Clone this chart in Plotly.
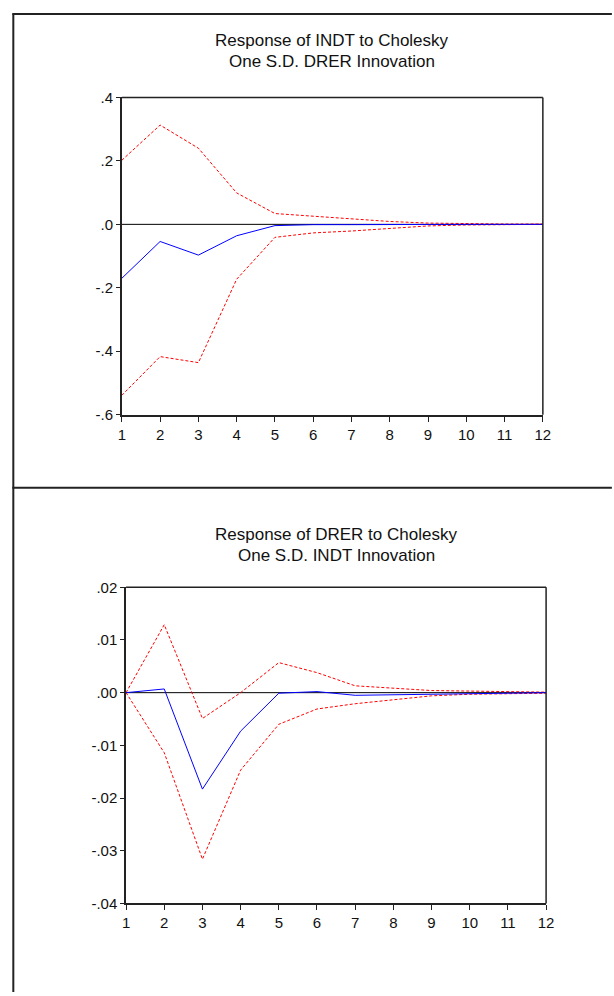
import plotly.graph_objects as go

W, H = 614, 996

periods = list(range(1, 13))

# Panel 1: Response of INDT to Cholesky One S.D. DRER Innovation
indt_resp = [-0.170, -0.054, -0.097, -0.036, -0.004, -0.001, -0.001, 0.000, 0.000, 0.000, 0.000, 0.000]
indt_upper = [0.202, 0.313, 0.240, 0.099, 0.034, 0.025, 0.016, 0.009, 0.004, 0.002, 0.001, 0.001]
indt_lower = [-0.539, -0.417, -0.436, -0.173, -0.041, -0.027, -0.021, -0.013, -0.005, -0.002, -0.001, 0.000]

# Panel 2: Response of DRER to Cholesky One S.D. INDT Innovation
drer_resp = [0.0, 0.0007, -0.0183, -0.0073, -0.0001, 0.0002, -0.0005, -0.0004, -0.0002, -0.0001, 0.0, 0.0]
drer_upper = [0.0, 0.0129, -0.0049, 0.0000, 0.0057, 0.0038, 0.0013, 0.0008, 0.0004, 0.0003, 0.0002, 0.0001]
drer_lower = [0.0, -0.0114, -0.0316, -0.0147, -0.0060, -0.0031, -0.0021, -0.0013, -0.0006, -0.0003, -0.0002, -0.0001]

y1_ticks = [0.4, 0.2, 0.0, -0.2, -0.4, -0.6]
y1_labels = [".4", ".2", ".0", "-.2", "-.4", "-.6"]
y2_ticks = [0.02, 0.01, 0.0, -0.01, -0.02, -0.03, -0.04]
y2_labels = [".02", ".01", ".00", "-.01", "-.02", "-.03", "-.04"]

titles = [("Response of INDT to Cholesky", "One S.D. DRER Innovation"),
          ("Response of DRER to Cholesky", "One S.D. INDT Innovation")]

FONT = "Liberation Sans, Arial, sans-serif"

def px_x(p):
    return p / W

def px_y(p):
    return 1 - p / H

# plot areas in pixels: (x0, x1, ytop, ybottom)
areas = [(120.2, 549.6, 90.0, 412.7), (124.5, 552.9, 588.3, 910.0)]

fig = go.Figure()

panels = [
    (indt_resp, indt_upper, indt_lower, [-0.6, 0.4], y1_ticks, y1_labels),
    (drer_resp, drer_upper, drer_lower, [-0.04, 0.02], y2_ticks, y2_labels),
]

shapes = []
annotations = []
for i, (resp, up, lo, yr, yt, yl) in enumerate(panels):
    xa = "x" if i == 0 else "x2"
    ya = "y" if i == 0 else "y2"
    for series, color, dash in [(up, "#ff0000", "3px,2px"), (lo, "#ff0000", "3px,2px"), (resp, "#0000ff", "solid")]:
        fig.add_trace(go.Scatter(x=periods, y=series, mode="lines",
                                 line=dict(color=color, width=1, dash=dash),
                                 xaxis=xa, yaxis=ya, showlegend=False, hoverinfo="skip"))
    x0, x1, yt_px, yb_px = areas[i]
    axkey = "xaxis" if i == 0 else "xaxis2"
    aykey = "yaxis" if i == 0 else "yaxis2"
    fig.layout[axkey] = dict(
        domain=[px_x(x0), px_x(x1)], range=[1, 12], anchor=ya,
        tickmode="array", tickvals=periods, ticktext=[str(p) for p in periods],
        ticks="outside", ticklen=5, tickwidth=1, tickcolor="#222",
        showline=True, linecolor="#222", linewidth=2, mirror=False,
        showgrid=False, zeroline=False,
        tickfont=dict(family=FONT, size=15, color="#111"),
    )
    fig.layout[aykey] = dict(
        domain=[px_y(yb_px), px_y(yt_px)], range=yr, anchor=xa,
        tickmode="array", tickvals=yt, ticktext=yl,
        ticks="outside", ticklen=4, tickwidth=1, tickcolor="#222",
        showline=True, linecolor="#222", linewidth=1.5, mirror=False,
        showgrid=False, zeroline=False,
        tickfont=dict(family=FONT, size=15, color="#111"),
    )
    # top and right frame lines
    shapes.append(dict(type="line", xref=xa + " domain", yref=ya + " domain", x0=0, x1=1, y0=1, y1=1,
                       line=dict(color="#222", width=1.5)))
    shapes.append(dict(type="line", xref=xa + " domain", yref=ya + " domain", x0=1, x1=1, y0=0, y1=1,
                       line=dict(color="#222", width=1.5)))
    # zero line
    shapes.append(dict(type="line", xref=xa + " domain", yref=ya, x0=0, x1=1, y0=0, y1=0,
                       line=dict(color="#000", width=1), layer="below"))
    cx = px_x((x0 + x1) / 2)
    t1y = 32.5 if i == 0 else 534.5
    for j, line in enumerate(titles[i]):
        annotations.append(dict(text=line, xref="paper", yref="paper", x=cx,
                                y=px_y(t1y + 21 * j), xanchor="center", yanchor="middle",
                                showarrow=False, font=dict(family=FONT, size=17, color="#111")))

# outer panel borders
shapes.append(dict(type="line", xref="paper", yref="paper", x0=px_x(9.5), x1=px_x(9.5), y0=px_y(4.5), y1=px_y(1000),
                   line=dict(color="#222", width=2)))
shapes.append(dict(type="line", xref="paper", yref="paper", x0=px_x(8.5), x1=px_x(620), y0=px_y(5), y1=px_y(5),
                   line=dict(color="#222", width=2)))
shapes.append(dict(type="line", xref="paper", yref="paper", x0=px_x(8.5), x1=px_x(620), y0=px_y(487), y1=px_y(487),
                   line=dict(color="#222", width=2)))

fig.update_layout(width=W, height=H, margin=dict(l=0, r=0, t=0, b=0),
                  paper_bgcolor="white", plot_bgcolor="white",
                  shapes=shapes, annotations=annotations, showlegend=False)

fig.write_html("out.html", config={"displayModeBar": False})
